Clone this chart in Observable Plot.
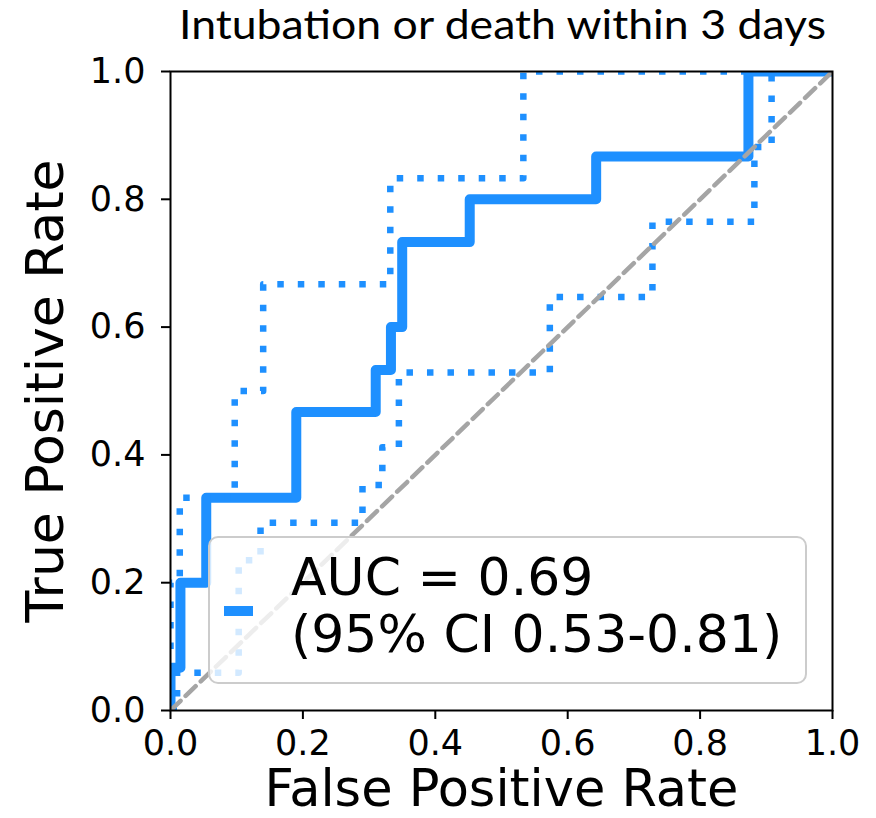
<!DOCTYPE html>
<html>
<head>
<meta charset="utf-8">
<script src="https://cdn.jsdelivr.net/npm/d3@7"></script>
<script src="https://cdn.jsdelivr.net/npm/@observablehq/plot@0.6"></script>
<style>
  html, body { margin: 0; padding: 0; background: #fff; }
  #chart { width: 876px; height: 818px; }
</style>
</head>
<body>
<div id="chart"></div>
<script>
// ---- Data ----
const titleText = "Intubation or death within 3 days";
const xLabel = "False Positive Rate";
const yLabel = "True Positive Rate";
const legendLines = ["AUC = 0.69", "(95% CI 0.53-0.81)"];

// Main ROC curve
const rocFpr = [0, 0, 0.015, 0.015, 0.054, 0.054, 0.19, 0.19, 0.31, 0.31, 0.333, 0.333, 0.35, 0.35, 0.452, 0.452, 0.643, 0.643, 0.873, 0.873, 1];
const rocTpr = [0, 0.067, 0.067, 0.2, 0.2, 0.333, 0.333, 0.467, 0.467, 0.533, 0.533, 0.6, 0.6, 0.733, 0.733, 0.8, 0.8, 0.867, 0.867, 1, 1];

// Upper CI bound
const upperFpr = [0, 0, 0.014, 0.014, 0.097, 0.097, 0.14, 0.14, 0.332, 0.332, 0.533, 0.533, 1];
const upperTpr = [0, 0.2, 0.2, 0.333, 0.333, 0.5, 0.5, 0.667, 0.667, 0.833, 0.833, 1, 1];

// Lower CI bound
const lowerFpr = [0, 0.01, 0.01, 0.103, 0.103, 0.136, 0.136, 0.29, 0.29, 0.32, 0.32, 0.345, 0.345, 0.573, 0.573, 0.728, 0.728, 0.882, 0.882, 0.908, 0.908, 1];
const lowerTpr = [0, 0, 0.059, 0.059, 0.235, 0.235, 0.294, 0.294, 0.353, 0.353, 0.412, 0.412, 0.529, 0.529, 0.647, 0.647, 0.765, 0.765, 0.882, 0.882, 1, 1];

// Chance diagonal
const diagX = [0, 1];
const diagY = [0, 1];

const xTicks = [0, 0.2, 0.4, 0.6, 0.8, 1.0];
const yTicks = [0, 0.2, 0.4, 0.6, 0.8, 1.0];

const blue = "#1E90FF";
const fmt = d3.format(".1f");

const chart = Plot.plot({
  width: 876,
  height: 818,
  marginLeft: 170,
  marginRight: 44,
  marginTop: 71,
  marginBottom: 108,
  x: { domain: [0, 1] },
  y: { domain: [0, 1] },
  style: { fontFamily: "DejaVu Sans", fontSize: "35px", color: "black", background: "white", overflow: "visible" },
  marks: [
    Plot.line(d3.range(rocFpr.length), { x: rocFpr, y: rocTpr, stroke: blue, strokeWidth: 10, strokeLinejoin: "round", strokeLinecap: "round", clip: true }),
    Plot.line(d3.range(upperFpr.length), { x: upperFpr, y: upperTpr, stroke: blue, strokeWidth: 6.5, strokeDasharray: "6.5,14", strokeLinecap: "butt", clip: true }),
    Plot.line(d3.range(lowerFpr.length), { x: lowerFpr, y: lowerTpr, stroke: blue, strokeWidth: 6.5, strokeDasharray: "6.5,14", strokeLinecap: "butt", clip: true }),
    Plot.line(d3.range(diagX.length), { x: diagX, y: diagY, stroke: "#a5a5a5", strokeWidth: 4.5, strokeDasharray: "14,7", clip: true }),
    Plot.axisX({ ticks: xTicks, tickFormat: fmt, tickSize: 9, tickPadding: 11, strokeWidth: 2, fontSize: 35, label: null }),
    Plot.axisY({ ticks: yTicks, tickFormat: fmt, tickSize: 9, tickPadding: 16, strokeWidth: 2, fontSize: 35, label: null }),
    Plot.frame({ stroke: "black", strokeWidth: 2 }),
    Plot.text([xLabel], { frameAnchor: "bottom", lineAnchor: "middle", textAnchor: "middle", dy: 79, fontSize: 51, fill: "black" }),
    Plot.text([yLabel], { frameAnchor: "left", lineAnchor: "middle", textAnchor: "middle", rotate: -90, dx: -124, fontSize: 52, fill: "black" })
  ]
});

document.getElementById("chart").appendChild(chart);

const svg = d3.select(chart);

// Title
svg.append("text")
  .attr("x", 502.5)
  .attr("y", 39)
  .attr("text-anchor", "middle")
  .attr("font-family", "Lato, 'Open Sans', sans-serif")
  .attr("font-size", 41)
  .attr("fill", "black")
  .attr("textLength", 647)
  .attr("lengthAdjust", "spacingAndGlyphs")
  .text(titleText);

// Legend
const lg = svg.append("g");
lg.append("rect")
  .attr("x", 209).attr("y", 537)
  .attr("width", 597).attr("height", 146)
  .attr("rx", 9).attr("ry", 9)
  .attr("fill", "white").attr("fill-opacity", 0.8)
  .attr("stroke", "#cccccc").attr("stroke-width", 2);
lg.append("line")
  .attr("x1", 224).attr("x2", 253)
  .attr("y1", 611).attr("y2", 611)
  .attr("stroke", blue).attr("stroke-width", 10);
legendLines.forEach((t, i) => {
  lg.append("text")
    .attr("x", 291)
    .attr("y", 595 + i * 57)
    .attr("text-anchor", "start")
    .attr("font-family", "DejaVu Sans")
    .attr("font-size", 52)
    .attr("fill", "black")
    .text(t);
});
</script>
</body>
</html>
